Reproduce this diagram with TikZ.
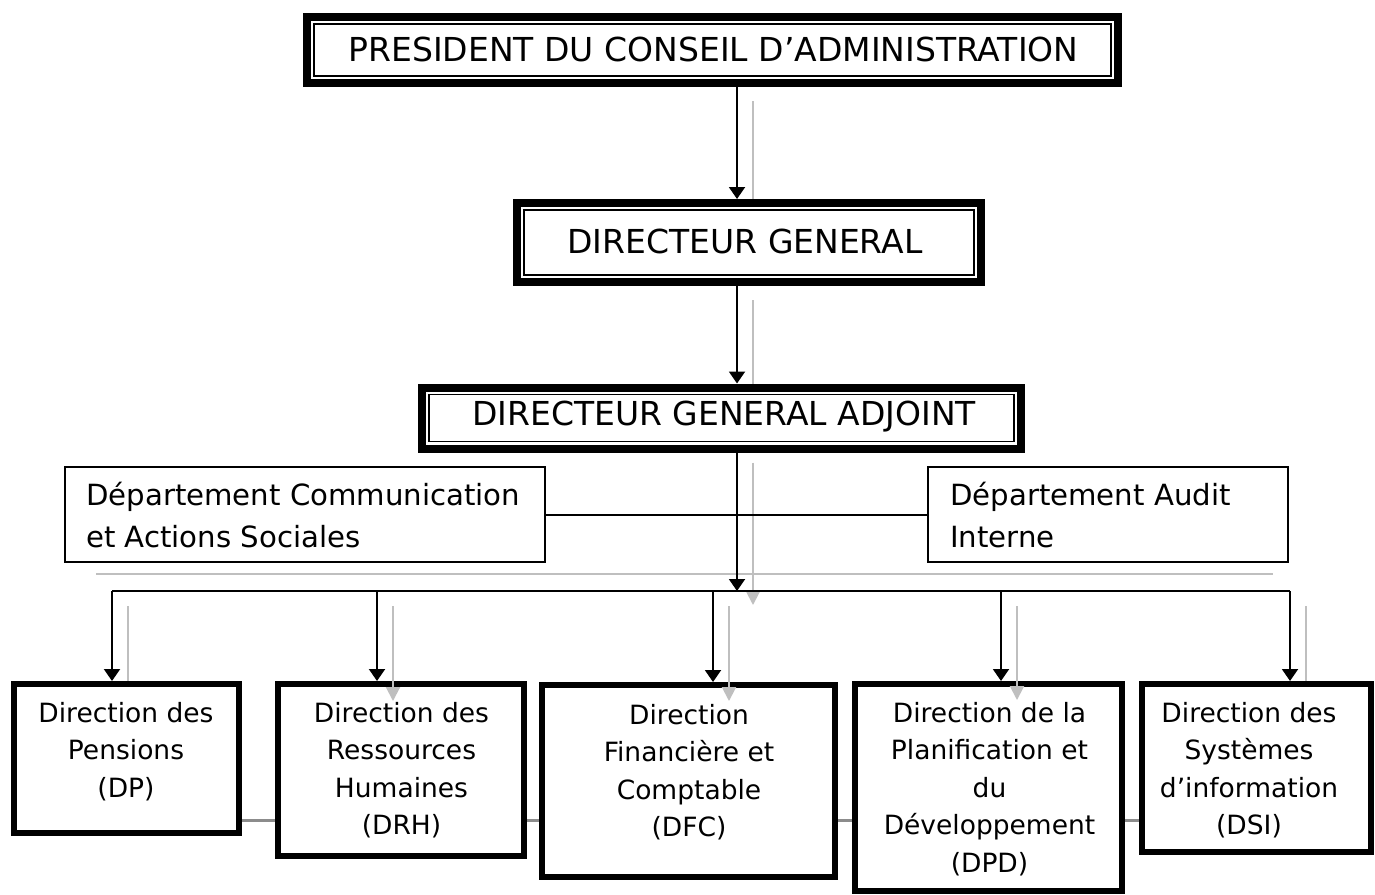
\documentclass[tikz,border=0pt]{standalone}
\usepackage{fontspec}
\setmainfont{DejaVu Sans}
\usetikzlibrary{arrows.meta,calc}
\begin{document}
\begin{tikzpicture}[x=1pt,y=-1pt,
  mainbox/.style={draw=black,line width=8pt,fill=white,inner sep=0pt},
  innerline/.style={draw=black,line width=1.8pt},
  subbox/.style={draw=black,line width=6pt,fill=white,inner sep=0pt},
  deptbox/.style={draw=black,line width=2pt,fill=white,inner sep=0pt},
  maintext/.style={font=\fontsize{33}{38}\selectfont,anchor=base,inner sep=0pt},
  depttext/.style={font=\fontsize{29.2}{42}\selectfont,anchor=north west,align=left,inner sep=0pt},
  subtext/.style={font=\fontsize{26.5}{37.5}\selectfont,anchor=north,align=center,inner sep=0pt},
  link/.style={draw=black,line width=2pt},
  arr/.style={link,-{Triangle[width=16pt,length=12pt]}},
  shade/.style={draw=black!25,line width=2pt},
  shadearr/.style={shade,-{Triangle[width=14pt,length=14pt]}},
  sidelink/.style={draw=black!45,line width=3pt},
]
\useasboundingbox (0,0) rectangle (1375,894);
\fill[white] (0,0) rectangle (1375,894);

% reference coordinates
\coordinate (spine) at (737,0);
\coordinate (shd) at (753,0);
\coordinate (bus) at (0,591);
\coordinate (row) at (0,820);
\coordinate (busL) at (112,591);
\coordinate (busR) at (1290,591);
\coordinate (gbusL) at (96,574);
\coordinate (gbusR) at (1273,574);
\coordinate (xdrh) at (377,591);
\coordinate (xdfc) at (713,591);
\coordinate (xdpd) at (1001,591);
\coordinate (gdp) at (128,0);
\coordinate (gdrh) at (393,0);
\coordinate (gdfc) at (729,0);
\coordinate (gdpd) at (1017,0);
\coordinate (gdsi) at (1306,0);

% boxes
\path
  node[mainbox,minimum width=811pt,minimum height=66pt] (pca) at (712.5,50) {}
  node[mainbox,minimum width=464pt,minimum height=79pt] (dg) at (749,242.5) {}
  node[mainbox,minimum width=599pt,minimum height=61pt] (dga) at (721.5,418) {}
  node[deptbox,minimum width=480pt,minimum height=95pt] (dcas) at (305,514.5) {}
  node[deptbox,minimum width=360pt,minimum height=95pt] (dai) at (1108,514.5) {};

% inner thin frames of the main boxes (anchors sit on the outer edge)
\draw[innerline] ($(pca.north west)+(11,11)$) rectangle ($(pca.south east)+(-11,-11)$);
\draw[innerline] ($(dg.north west)+(11,11)$) rectangle ($(dg.south east)+(-11,-11)$);
\draw[innerline] ($(dga.north west)+(11,11)$) rectangle ($(dga.south east)+(-11,-11)$);

% gray shadows behind
\draw[shade] ($(pca.south -| shd)+(0,14)$) -- (dg.north -| shd);
\draw[shade] ($(dg.south -| shd)+(0,14)$) -- (dga.north -| shd);
\draw[shade] (gbusL) -- (gbusR);

% bottom boxes and the gray links between them
\node[subbox,minimum width=225pt,minimum height=149pt] (dp) at (126.5,758.5) {};
\node[subbox,minimum width=246pt,minimum height=172pt] (drh) at (401,770) {};
\node[subbox,minimum width=293pt,minimum height=192pt] (dfc) at (688.5,781) {};
\node[subbox,minimum width=267pt,minimum height=207pt] (dpd) at (988.5,787.5) {};
\node[subbox,minimum width=229pt,minimum height=168pt] (dsi) at (1256.5,768) {};
\draw[sidelink] (dp.east |- row) -- (drh.west |- row);
\draw[sidelink] (drh.east |- row) -- (dfc.west |- row);
\draw[sidelink] (dfc.east |- row) -- (dpd.west |- row);
\draw[sidelink] (dpd.east |- row) -- (dsi.west |- row);

% texts
\node[maintext] (tpca) at (713.5,61) {PRESIDENT DU CONSEIL D’ADMINISTRATION};
\node[maintext] (tdg) at (745,253) {DIRECTEUR GENERAL};
\node[maintext] (tdga) at (724,425) {DIRECTEUR GENERAL ADJOINT};
\node[depttext] (tdcas) at (86,480) {\rule{0pt}{25pt}Département Communication\\et Actions Sociales};
\node[depttext] (tdai) at (950,480) {\rule{0pt}{25pt}Département Audit\\Interne};
\node[subtext] (tdp) at (126,698) {\rule{0pt}{24pt}Direction des\\Pensions\\(DP)};
\node[subtext] (tdrh) at (401.5,698) {\rule{0pt}{24pt}Direction des\\Ressources\\Humaines\\(DRH)};
\node[subtext] (tdfc) at (689,700) {\rule{0pt}{24pt}Direction\\Financière et\\Comptable\\(DFC)};
\node[subtext] (tdpd) at (989.5,698) {\rule{0pt}{24pt}Direction de la\\Planification et\\du\\Développement\\(DPD)};
\node[subtext] (tdsi) at (1249,698) {\rule{0pt}{24pt}Direction des\\Systèmes\\d’information\\(DSI)};

% gray shadow drops
\draw[shadearr] ($(dga.south -| shd)+(0,10)$) -- ($(bus -| shd)+(0,14)$);
\draw[shade] ($(bus -| gdp)+(0,15)$) -- (dp.north -| gdp);
\draw[shade] ($(bus -| gdsi)+(0,15)$) -- (dsi.north -| gdsi);
\draw[shadearr] ($(bus -| gdrh)+(0,15)$) -- ($(drh.north -| gdrh)+(0,20)$);
\draw[shadearr] ($(bus -| gdfc)+(0,15)$) -- ($(dfc.north -| gdfc)+(0,19)$);
\draw[shadearr] ($(bus -| gdpd)+(0,15)$) -- ($(dpd.north -| gdpd)+(0,19)$);

% black connectors
\draw[arr] (pca.south -| spine) -- (dg.north -| spine);
\draw[arr] (dg.south -| spine) -- (dga.north -| spine);
\draw[arr] (dga.south -| spine) -- (bus -| spine);
\draw[link] (dcas.east) -- (dai.west);
\draw[link] (busL) -- (busR);
\draw[arr] (busL) -- (dp.north -| busL);
\draw[arr] (xdrh) -- (drh.north -| xdrh);
\draw[arr] (xdfc) -- (dfc.north -| xdfc);
\draw[arr] (xdpd) -- (dpd.north -| xdpd);
\draw[arr] (busR) -- (dsi.north -| busR);
\end{tikzpicture}
\end{document}
